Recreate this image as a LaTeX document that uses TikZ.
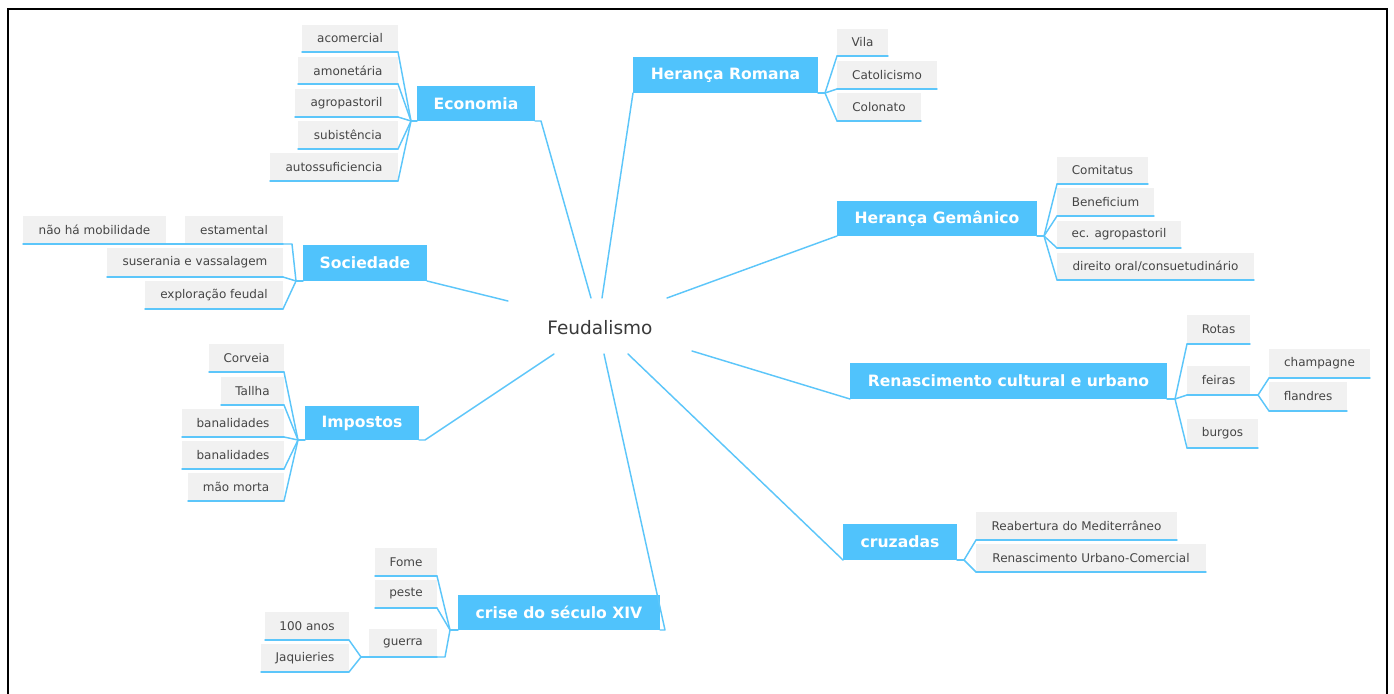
\documentclass[tikz,border=0pt]{standalone}
\usepackage{fontspec}
\setmainfont{DejaVu Sans}
\usetikzlibrary{calc}
\definecolor{mblue}{HTML}{50C3FC}
\definecolor{cblue}{HTML}{5CC6FA}
\definecolor{lgray}{HTML}{F1F1F1}
\definecolor{ltext}{HTML}{454545}
\definecolor{ctext}{HTML}{3A3A3A}
\tikzset{
 leafbox/.style={fill=lgray, inner sep=0pt, outer sep=0pt, anchor=north west, text=ltext, font=\fontsize{12}{14}\selectfont},
 mainbox/.style={fill=mblue, inner sep=0pt, outer sep=0pt, anchor=north west, text=white, font=\fontsize{15.6}{18}\selectfont\bfseries},
 conn/.style={draw=cblue, line width=1.45pt, line join=round, line cap=round},
 frameline/.style={draw=black, line width=2pt},
}
\newcommand\boxat[7]{\node[#1, minimum width={(#5-#3)*1pt}, minimum height={(#6-#4)*1pt}] (#2) at (#3,#4) {#7};}
\newcommand\leafat[6]{\boxat{leafbox}{#1}{#2}{#3}{#4}{#5}{#6}\draw[conn] (#1.south west) -- (#1.south east);}
\begin{document}
\begin{tikzpicture}[x=1pt,y=-1pt]
\useasboundingbox (0,0) rectangle (1394,693);
\fill[white] (0,0) rectangle (1394,693);
\draw[frameline] (8,694) -- (8,9) -- (1387,9) -- (1387,694);

% center
\node[text=ctext, font=\fontsize{18.5}{20}\selectfont] (feud) at (600,328) {Feudalismo};

% main boxes
\boxat{mainbox}{eco}{417}{86}{535}{121}{Economia}
\boxat{mainbox}{soc}{303}{245}{427}{281}{Sociedade}
\boxat{mainbox}{imp}{305}{406}{419}{440}{Impostos}
\boxat{mainbox}{cri}{458}{595}{660}{630}{crise do século XIV}
\boxat{mainbox}{rom}{633}{57}{818}{93}{Herança Romana}
\boxat{mainbox}{ger}{837}{201}{1037}{236}{Herança Gemânico}
\boxat{mainbox}{ren}{850}{363}{1167}{399}{Renascimento cultural e urbano}
\boxat{mainbox}{cru}{843}{524}{957}{560}{cruzadas}

% center line ends
\coordinate (fE) at (591,298);
\coordinate (fS) at (508,301);
\coordinate (fI) at (554,354);
\coordinate (fC) at (604,354);
\coordinate (fR) at (602,298);
\coordinate (fG) at (667,298);
\coordinate (fN) at (692,351);
\coordinate (fU) at (628,354);

\draw[conn] (fE) -- ($(eco.south east)+(6,0)$) -- (eco.south east);
\draw[conn] (fS) -- (soc.south east);
\draw[conn] (fI) -- ($(imp.south east)+(6,0)$) -- (imp.south east);
\draw[conn] (fC) -- ($(cri.south east)+(5,0)$) -- (cri.south east);
\draw[conn] (fR) -- (rom.south west);
\draw[conn] (fG) -- (ger.south west);
\draw[conn] (fN) -- (ren.south west);
\draw[conn] (fU) -- (cru.south west);

% leaves
\leafat{ea}{302}{25}{398}{52}{acomercial}
\leafat{eb}{298}{57}{398}{84}{amonetária}
\leafat{ec}{295}{89}{398}{117}{agropastoril}
\leafat{ed}{298}{121}{398}{149}{subistência}
\leafat{ee}{270}{153}{398}{181}{autossuficiencia}

\leafat{sa}{185}{216}{283}{244}{estamental}
\leafat{sn}{23}{216}{166}{244}{não há mobilidade}
\leafat{sb}{107}{248}{283}{277}{suserania e vassalagem}
\leafat{sc}{145}{281}{283}{309}{exploração feudal}

\leafat{ia}{209}{344}{284}{372}{Corveia}
\leafat{ib}{221}{377}{284}{405}{Tallha}
\leafat{ic}{182}{409}{284}{437}{banalidades}
\leafat{id}{182}{441}{284}{469}{banalidades}
\leafat{ie}{188}{473}{284}{501}{mão morta}

\leafat{ca}{375}{548}{437}{576}{Fome}
\leafat{cb}{375}{580}{437}{608}{peste}
\leafat{cc}{369}{629}{437}{657}{guerra}
\leafat{cd}{265}{612}{349}{640}{100 anos}
\leafat{ce}{261}{644}{349}{672}{Jaquieries}

\leafat{ra}{837}{29}{888}{56}{Vila}
\leafat{rb}{837}{61}{937}{89}{Catolicismo}
\leafat{rc}{837}{93}{921}{121}{Colonato}

\leafat{ga}{1057}{157}{1148}{184}{Comitatus}
\leafat{gb}{1057}{188}{1154}{216}{Beneficium}
\leafat{gc}{1057}{221}{1181}{248}{ec. agropastoril}
\leafat{gd}{1057}{253}{1254}{280}{direito oral/consuetudinário}

\leafat{na}{1187}{315}{1250}{344}{Rotas}
\leafat{nb}{1187}{366}{1250}{395}{feiras}
\leafat{nc}{1187}{419}{1258}{448}{burgos}
\leafat{nd}{1269}{349}{1370}{378}{champagne}
\leafat{ne}{1269}{382}{1347}{411}{flandres}

\leafat{ua}{976}{512}{1177}{540}{Reabertura do Mediterrâneo}
\leafat{ub}{976}{544}{1206}{572}{Renascimento Urbano-Comercial}

% joints
\coordinate (jE) at (411,121);
\coordinate (jS) at (296,281);
\coordinate (jI) at (298,440);
\coordinate (jC) at (450,630);
\coordinate (jW) at (361,657);
\coordinate (jR) at (825,93);
\coordinate (jG) at (1044,236);
\coordinate (jN) at (1175,399);
\coordinate (jF) at (1258,395);
\coordinate (jU) at (964,560);

\draw[conn] (eco.south west) -- (jE);
\foreach \n in {ea,eb,ec,ed,ee} \draw[conn] (jE) -- (\n.south east);
\draw[conn] (soc.south west) -- (jS);
\draw[conn] (jS) -- ($(sa.south east)+(9,0)$) -- (sa.south east);
\foreach \n in {sb,sc} \draw[conn] (jS) -- (\n.south east);
\draw[conn] (sn.south east) -- (sa.south west);
\draw[conn] (imp.south west) -- (jI);
\foreach \n in {ia,ib,ic,id,ie} \draw[conn] (jI) -- (\n.south east);
\draw[conn] (cri.south west) -- (jC);
\foreach \n in {ca,cb} \draw[conn] (jC) -- (\n.south east);
\draw[conn] (jC) -- ($(cc.south east)+(8,0)$) -- (cc.south east);
\draw[conn] (cc.south west) -- (jW);
\foreach \n in {cd,ce} \draw[conn] (jW) -- (\n.south east);
\draw[conn] (rom.south east) -- (jR);
\foreach \n in {ra,rb,rc} \draw[conn] (jR) -- (\n.south west);
\draw[conn] (ger.south east) -- (jG);
\foreach \n in {ga,gb,gc,gd} \draw[conn] (jG) -- (\n.south west);
\draw[conn] (ren.south east) -- (jN);
\foreach \n in {na,nb,nc} \draw[conn] (jN) -- (\n.south west);
\draw[conn] (nb.south east) -- (jF);
\foreach \n in {nd,ne} \draw[conn] (jF) -- (\n.south west);
\draw[conn] (cru.south east) -- (jU);
\foreach \n in {ua,ub} \draw[conn] (jU) -- (\n.south west);
\end{tikzpicture}
\end{document}
